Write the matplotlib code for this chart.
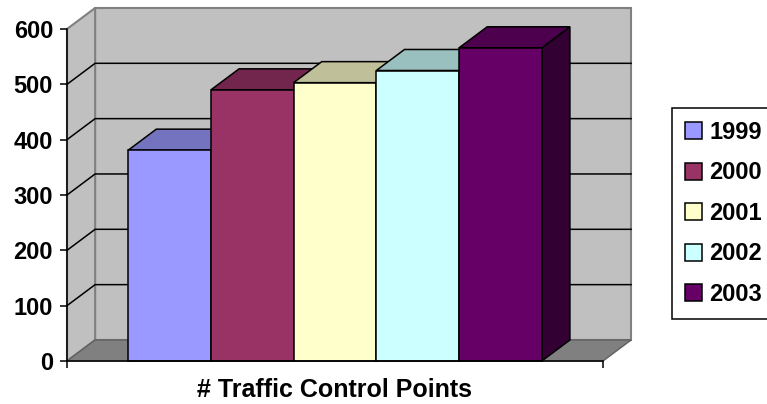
import matplotlib
matplotlib.use("Agg")
import matplotlib.pyplot as plt
from matplotlib.patches import Polygon, Rectangle

years = ["1999", "2000", "2001", "2002", "2003"]
counts = [381, 490, 503, 525, 566]
colors = ["#9999FF", "#993366", "#FFFFCC", "#CCFFFF", "#660066"]
y_ticks = [0, 100, 200, 300, 400, 500, 600]
x_title = "# Traffic Control Points"

plt.rcParams["font.family"] = ["Liberation Sans", "DejaVu Sans"]
plt.rcParams["font.weight"] = "bold"

W, H = 767, 404
fig = plt.figure(figsize=(W / 100, H / 100), dpi=100)
ax = fig.add_axes([67 / W, 1 - 361 / H, 536 / W, 332 / H])

n = len(years)
gap = 0.74          # space between wall and first/last bar, in bar widths
x_max = n + 2 * gap
dx, dy = 0.34, 38   # depth offset of the back wall (x in bar widths, y in values)
y_max = y_ticks[-1]
lw = 1.1
fs = 17

ax.set_xlim(0, x_max)
ax.set_ylim(0, y_max)


def shade(c, k):
    r, g, b = matplotlib.colors.to_rgb(c)
    return (r * k, g * k, b * k)


# walls and floor
back = Polygon([(dx, dy), (x_max + dx, dy), (x_max + dx, y_max + dy), (dx, y_max + dy)],
               closed=True, fc="#C0C0C0", ec="#808080", lw=1.5, clip_on=False, zorder=0)
side = Polygon([(0, 0), (dx, dy), (dx, y_max + dy), (0, y_max)],
               closed=True, fc="#C0C0C0", ec="#808080", lw=1.5, clip_on=False, zorder=0)
floor = Polygon([(0, 0), (x_max, 0), (x_max + dx, dy), (dx, dy)],
                closed=True, fc="#808080", ec="#606060", lw=1.0, clip_on=False, zorder=0.5)
for p in (back, side, floor):
    ax.add_patch(p)

for v in y_ticks[1:-1]:
    ax.plot([0, dx, x_max + dx], [v, v + dy, v + dy], color="black", lw=lw,
            clip_on=False, zorder=1)

# bars, left to right so each front face hides the previous side face
handles = []
for i, (v, c) in enumerate(zip(counts, colors)):
    x0 = gap + i
    right = Polygon([(x0 + 1, 0), (x0 + 1 + dx, dy), (x0 + 1 + dx, v + dy), (x0 + 1, v)],
                    closed=True, fc=shade(c, 0.5), ec="black", lw=lw, clip_on=False, zorder=2 + i)
    top = Polygon([(x0, v), (x0 + 1, v), (x0 + 1 + dx, v + dy), (x0 + dx, v + dy)],
                  closed=True, fc=shade(c, 0.75), ec="black", lw=lw, clip_on=False, zorder=2 + i)
    front = Rectangle((x0, 0), 1, v, fc=c, ec="black", lw=lw, clip_on=False, zorder=2 + i)
    ax.add_patch(right)
    ax.add_patch(top)
    ax.add_patch(front)
    handles.append(front)

ax.patch.set_visible(False)
for s in ("top", "right"):
    ax.spines[s].set_visible(False)
for s in ("left", "bottom"):
    ax.spines[s].set_linewidth(lw)
    ax.spines[s].set_zorder(10)

ax.set_yticks(y_ticks)
ax.set_xticks([0, x_max])
ax.set_xticklabels([])
ax.tick_params(axis="y", direction="out", length=5, width=lw, pad=5, labelsize=fs)
ax.tick_params(axis="x", direction="out", length=5, width=lw)
ax.set_xlabel(x_title, fontsize=18, fontweight="bold", labelpad=4)

fig.legend(handles, years, loc="upper left", bbox_to_anchor=(672 / W, 1 - 108 / H),
           frameon=True, fancybox=False, edgecolor="black", framealpha=1,
           prop={"size": fs, "weight": "bold"}, handlelength=0.72, handleheight=0.72,
           handletextpad=0.3, labelspacing=0.74, borderpad=0.55, borderaxespad=0)
fig.legends[0].get_frame().set_linewidth(lw)

fig.savefig("out.png", dpi=100)
